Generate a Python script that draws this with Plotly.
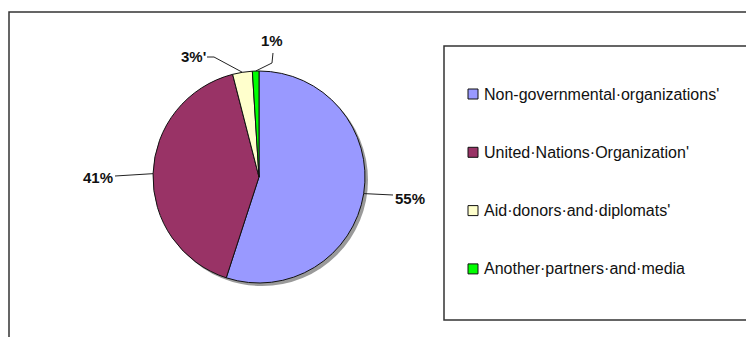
import math
import plotly.graph_objects as go

# Data
categories = [
    "Non-governmental·organizations'",
    "United·Nations·Organization'",
    "Aid·donors·and·diplomats'",
    "Another·partners·and·media",
]
shares = [55, 41, 3, 1]
label_suffix = ["", "", "'", ""]
colors = ["#9999FF", "#993366", "#FFFFCC", "#00FF00"]

# Canvas geometry (pixels)
W, H = 746, 337
CX, CY, R = 259, 177, 106
FONT = "Liberation Sans, Arial, sans-serif"


def px(x):
    return x / W


def py(y):
    return 1 - y / H


fig = go.Figure()
fig.add_trace(go.Pie(
    labels=categories,
    values=shares,
    sort=False,
    direction="clockwise",
    rotation=0,
    marker=dict(colors=colors, line=dict(color="#111111", width=1)),
    textinfo="none",
    hoverinfo="label+percent",
    showlegend=False,
    domain=dict(x=[px(CX - R), px(CX + R)], y=[py(CY + R), py(CY - R)]),
))

shapes = []
annotations = []

# Outer chart frame and legend frame
shapes.append(dict(type="rect", xref="paper", yref="paper",
                   x0=px(9), x1=px(760), y0=py(350), y1=py(12),
                   line=dict(color="#333333", width=1.5), layer="below"))
shapes.append(dict(type="rect", xref="paper", yref="paper",
                   x0=px(444), x1=px(760), y0=py(320), y1=py(46),
                   line=dict(color="#333333", width=1.5), layer="below"))

# Drop shadow behind the pie
shapes.append(dict(type="circle", xref="paper", yref="paper",
                   x0=px(CX - R + 3), x1=px(CX + R + 3),
                   y0=py(CY + R + 3), y1=py(CY - R + 3),
                   fillcolor="#9a9a9a", line=dict(width=0), layer="below"))

# Leader-line routing and label positions for each slice
label_layout = [
    dict(elbow=None, end=(393, 195), text=(410, 198)),
    dict(elbow=None, end=(115, 176), text=(98, 177)),
    dict(elbow=(214, 57), end=(207, 57), text=(193, 57)),
    dict(elbow=(272, 63), end=(273, 53), text=(272, 41)),
]

total = sum(shares)
cum = 0
for v, suf, lay in zip(shares, label_suffix, label_layout):
    mid = (cum + v / 2) / total * 2 * math.pi
    cum += v
    ex = CX + R * math.sin(mid)
    ey = CY - R * math.cos(mid)
    pts = [(ex, ey)]
    if lay["elbow"]:
        pts.append(lay["elbow"])
    pts.append(lay["end"])
    path = "M " + " L ".join(f"{px(x):.5f},{py(y):.5f}" for x, y in pts)
    shapes.append(dict(type="path", xref="paper", yref="paper", path=path,
                       line=dict(color="#222222", width=1)))
    tx, ty = lay["text"]
    annotations.append(dict(
        x=px(tx), y=py(ty), xref="paper", yref="paper",
        text=f"<b>{v}%{suf}</b>", showarrow=False,
        xanchor="center", yanchor="middle",
        font=dict(family=FONT, size=15, color="#111111"),
    ))

# Legend entries
for i, (name, col) in enumerate(zip(categories, colors)):
    yc = 94 + i * 58.3
    shapes.append(dict(type="rect", xref="paper", yref="paper",
                       x0=px(468), x1=px(478), y0=py(yc + 5), y1=py(yc - 5),
                       fillcolor=col, line=dict(color="#111111", width=1)))
    annotations.append(dict(
        x=px(482), y=py(yc), xref="paper", yref="paper",
        text=name, showarrow=False, xanchor="left", yanchor="middle",
        font=dict(family=FONT, size=16, color="#111111"),
    ))

fig.update_layout(
    width=W, height=H,
    margin=dict(l=0, r=0, t=0, b=0),
    paper_bgcolor="white", plot_bgcolor="white",
    shapes=shapes, annotations=annotations,
    showlegend=False,
)

fig.write_html("out.html")
